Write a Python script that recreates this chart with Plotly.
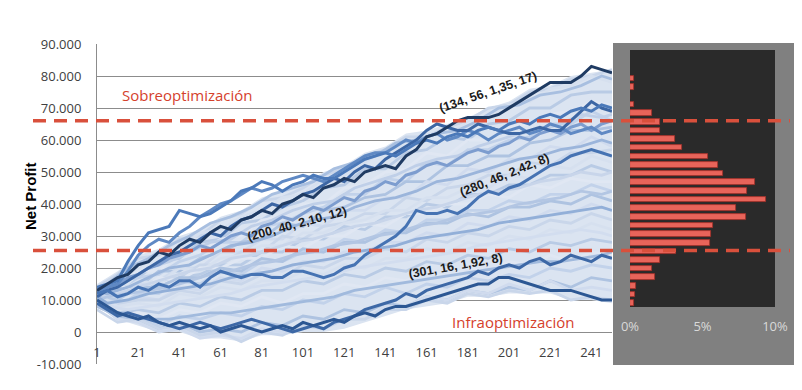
import plotly.graph_objects as go

# ---------------- data (values in thousands of Net Profit) ----------------
steps_a = [1, 11, 21, 31, 41, 51, 61, 71, 81, 91, 101, 111, 121, 131, 141, 151, 161, 171, 181, 191, 201, 211, 221, 231, 241, 251]
steps_b = [1, 6, 16, 26, 36, 46, 56, 66, 76, 86, 96, 106, 116, 126, 136, 146, 156, 166, 176, 186, 196, 206, 216, 226, 236, 246, 251]
steps_c = [1, 6, 11, 16, 21, 26, 31, 36, 41, 46, 51, 56, 61, 66, 71, 76, 81, 86, 91, 96, 101, 106, 111, 116, 121, 126,
           131, 136, 141, 146, 151, 156, 161, 166, 171, 176, 181, 186, 191, 196, 201, 206, 211, 216, 221, 226, 231, 236,
           241, 246, 251]

cloud_upper = [15, 19, 24, 26, 30, 32, 36, 38, 42, 44, 46, 50, 52, 56, 58, 62, 63, 65, 67, 70, 72, 76, 77, 80, 81, 82]
cloud_lower = [8, 4, 2, 0, 0, -2, -2, -3, -1, -1, 0, 0, 1, 3, 5, 7, 8, 9, 11, 11, 12, 12, 12, 10, 10, 9]

light_runs = [
    [14, 18, 23, 24, 29, 30, 35, 37, 41, 42, 45, 49, 51, 55, 57, 61, 61, 64, 66, 70, 71, 75, 76, 79, 80, 82],
    [13, 17, 20, 25, 26, 31, 32, 36, 38, 42, 43, 48, 49, 53, 57, 58, 62, 61, 66, 67, 71, 72, 76, 77, 80, 78],
    [12, 16, 17, 22, 23, 28, 29, 34, 35, 39, 41, 45, 46, 51, 51, 56, 57, 61, 60, 65, 66, 70, 70, 74, 75, 75],
    [11, 14, 19, 19, 25, 25, 29, 30, 35, 36, 40, 40, 45, 46, 50, 51, 56, 55, 60, 60, 64, 65, 68, 69, 72, 71],
    [13, 11, 17, 18, 22, 24, 28, 28, 33, 34, 37, 39, 43, 43, 48, 47, 53, 52, 57, 57, 60, 61, 65, 65, 69, 66],
    [10, 14, 14, 19, 19, 23, 25, 28, 29, 34, 33, 38, 39, 42, 43, 47, 47, 52, 52, 55, 55, 59, 60, 63, 63, 64],
    [12, 10, 15, 16, 20, 20, 25, 25, 29, 29, 34, 33, 38, 38, 42, 42, 47, 46, 51, 50, 54, 54, 58, 57, 61, 58],
    [9, 13, 12, 16, 17, 21, 21, 25, 25, 30, 29, 33, 34, 37, 37, 42, 41, 45, 46, 49, 49, 53, 52, 56, 56, 57],
    [14, 12, 16, 15, 20, 19, 23, 24, 27, 27, 31, 31, 34, 35, 38, 38, 42, 42, 45, 45, 49, 48, 52, 51, 55, 53],
    [11, 10, 14, 14, 17, 18, 21, 21, 25, 25, 29, 29, 33, 32, 36, 36, 40, 39, 43, 43, 46, 46, 49, 49, 52, 50],
    [12, 15, 12, 17, 16, 20, 20, 23, 23, 27, 26, 30, 30, 34, 33, 37, 37, 40, 40, 43, 42, 46, 45, 48, 47, 47],
    [10, 8, 12, 12, 16, 15, 19, 18, 22, 22, 25, 25, 29, 28, 32, 31, 35, 35, 38, 38, 41, 40, 43, 43, 46, 44],
    [13, 11, 14, 14, 17, 17, 20, 19, 23, 22, 26, 25, 28, 28, 31, 31, 34, 34, 37, 36, 39, 39, 41, 40, 43, 41],
    [9, 8, 11, 10, 14, 13, 17, 16, 20, 19, 22, 22, 25, 25, 28, 28, 31, 30, 34, 33, 36, 35, 38, 37, 40, 38],
    [11, 9, 10, 10, 13, 12, 16, 15, 18, 17, 21, 20, 23, 23, 26, 25, 29, 28, 31, 30, 33, 32, 35, 34, 37, 35],
    [12, 8, 9, 8, 12, 11, 14, 13, 16, 16, 19, 18, 21, 20, 23, 23, 26, 25, 28, 27, 30, 29, 32, 31, 34, 32],
    [10, 6, 7, 6, 9, 8, 11, 10, 13, 13, 16, 15, 18, 17, 20, 19, 22, 21, 24, 23, 26, 25, 28, 27, 29, 28],
    [8, 5, 6, 4, 7, 6, 9, 8, 11, 9, 12, 12, 15, 14, 17, 16, 19, 17, 20, 19, 22, 21, 24, 22, 25, 24],
    [9, 4, 5, 2, 5, 4, 6, 5, 8, 7, 10, 9, 12, 11, 14, 12, 15, 14, 17, 16, 18, 17, 20, 19, 21, 20],
    [8, 5, 4, 1, 3, 0, 1, 0, 3, 2, 5, 4, 7, 6, 9, 8, 11, 10, 13, 12, 14, 13, 16, 14, 17, 16],
    [10, 4, 3, 0, 1, -2, -1, -2, 1, 0, 2, 1, 4, 4, 8, 8, 11, 10, 13, 12, 15, 13, 16, 13, 14, 13],
    [7, 3, 4, 1, 2, -1, 0, -3, 0, -1, 2, 1, 4, 4, 7, 7, 10, 9, 12, 11, 13, 12, 13, 10, 11, 10],
]

mid_runs = [
    [13, 15, 20, 23, 27, 30, 34, 36, 39, 43, 45, 47, 51, 53, 55, 59, 60, 62, 63, 66, 70, 71, 74, 75, 77, 80, 79],
    [12, 13, 16, 20, 22, 25, 28, 29, 33, 35, 38, 40, 41, 45, 47, 49, 52, 54, 55, 58, 60, 62, 63, 65, 68, 67, 68],
    [11, 12, 14, 17, 20, 21, 24, 27, 28, 30, 33, 35, 36, 39, 41, 42, 44, 47, 48, 50, 52, 54, 55, 57, 58, 60, 59],
    [12, 11, 13, 15, 17, 19, 20, 23, 24, 26, 28, 29, 31, 33, 34, 36, 38, 39, 41, 43, 44, 45, 47, 48, 50, 49, 50],
    [10, 11, 12, 13, 14, 16, 18, 19, 21, 22, 24, 25, 27, 28, 30, 31, 33, 34, 36, 37, 38, 40, 41, 42, 44, 43, 44],
    [11, 9, 10, 12, 13, 14, 15, 17, 18, 19, 21, 22, 23, 25, 26, 27, 29, 30, 31, 32, 34, 35, 36, 37, 38, 39, 38],
    [9, 8, 7, 8, 9, 10, 11, 12, 14, 15, 16, 17, 18, 20, 21, 22, 23, 24, 25, 27, 28, 29, 30, 31, 32, 31, 30],
    [10, 7, 5, 4, 4, 5, 6, 6, 7, 8, 9, 10, 11, 13, 14, 15, 16, 17, 18, 19, 20, 21, 22, 22, 23, 24, 25],
]

run_medium_upper = [12, 14, 15, 17, 18, 20, 21, 23, 24, 25, 27, 26, 28, 30, 31, 30, 33, 34, 36, 35, 37, 39, 38, 40, 42, 41,
                    44, 45, 47, 46, 49, 50, 52, 53, 52, 54, 56, 57, 56, 58, 59, 61, 60, 62, 63, 62, 64, 65, 63, 65, 66]
run_dark_upper = [11, 13, 14, 16, 18, 20, 22, 24, 25, 27, 29, 31, 30, 33, 35, 36, 38, 40, 39, 41, 43, 44, 46, 48, 47, 50,
                  52, 51, 54, 56, 58, 60, 63, 65, 64, 63, 63, 65, 64, 63, 62, 62, 63, 64, 63, 63, 66, 69, 72, 70, 69]
run_200_40 = [14, 15, 16, 22, 27, 31, 32, 33, 38, 37, 36, 37, 39, 41, 44, 45, 47, 46, 44, 46, 47, 49, 48, 48, 50, 52,
              54, 55, 56, 55, 57, 59, 60, 59, 61, 62, 61, 63, 64, 63, 65, 66, 65, 67, 68, 67, 69, 70, 69, 71, 70]
run_parallel = [13, 14, 15, 19, 24, 27, 29, 28, 31, 33, 36, 38, 40, 41, 43, 45, 44, 45, 47, 48, 49, 48, 47, 49, 51, 53,
                55, 56, 56, 58, 60, 59, 61, 62, 60, 61, 63, 62, 60, 62, 63, 64, 62, 63, 65, 64, 62, 63, 64, 62, 63]
run_280_46 = [12, 13, 11, 12, 14, 13, 15, 14, 16, 16, 14, 17, 19, 18, 17, 18, 18, 17, 17, 19, 19, 18, 17, 18, 20, 21,
              24, 26, 28, 30, 33, 38, 37, 37, 38, 37, 39, 42, 44, 43, 45, 46, 48, 50, 52, 53, 55, 56, 57, 56, 55]
run_low_b = [9, 7, 5, 6, 5, 4, 3, 2, 1, 2, 3, 2, 1, 2, 3, 4, 3, 2, 1, 0, 1, 2, 1, 3, 4, 5,
             7, 8, 9, 10, 12, 11, 13, 14, 15, 16, 17, 19, 18, 20, 21, 20, 22, 23, 21, 22, 24, 23, 22, 24, 23]
run_301_16 = [10, 8, 6, 5, 4, 5, 3, 2, 3, 2, 1, 2, 0, 1, 2, 1, 0, 1, 2, 1, 3, 2, 3, 4, 3, 5,
              6, 5, 7, 8, 8, 9, 10, 11, 12, 13, 14, 15, 15, 17, 17, 16, 15, 14, 13, 13, 13, 12, 11, 10, 10]
run_134_56 = [13, 15, 17, 18, 21, 22, 25, 24, 27, 29, 28, 31, 33, 32, 35, 36, 38, 37, 40, 41, 43, 42, 45, 46, 48, 47,
              50, 51, 52, 51, 55, 57, 61, 62, 64, 66, 67, 67, 67, 68, 70, 72, 74, 76, 78, 78, 78, 80, 83, 82, 81]

hist_bins = [9.0, 11.7, 14.4, 17.1, 19.8, 22.5, 25.2, 27.9, 30.6, 33.3, 36.0, 38.7, 41.4, 44.1, 46.8, 49.5, 52.2,
             54.9, 57.6, 60.3, 63.0, 65.7, 68.4, 71.1, 73.8, 76.5, 79.2]
hist_pct = [0.3, 0.35, 0.4, 1.75, 1.55, 2.1, 3.15, 5.5, 5.6, 5.7, 8.0, 7.3, 9.4, 8.1, 8.6, 6.4, 6.1, 5.4, 3.6, 3.1,
            2.06, 2.1, 1.55, 0.25, 0, 0.25, 0.25]

y_ticks = [-10000, 0, 10000, 20000, 30000, 40000, 50000, 60000, 70000, 80000, 90000]
y_labels = ["-10.000", "0", "10.000", "20.000", "30.000", "40.000", "50.000", "60.000", "70.000", "80.000", "90.000"]
x_ticks = [1, 21, 41, 61, 81, 101, 121, 141, 161, 181, 201, 221, 241]
pct_ticks = [0, 5, 10]
pct_labels = ["0%", "5%", "10%"]
upper_level = 66000
lower_level = 25500

K = 1000


def k(vals):
    return [v * K for v in vals]


fig = go.Figure()

# light cloud band
fig.add_trace(go.Scatter(x=steps_a + steps_a[::-1], y=k(cloud_upper) + k(cloud_lower)[::-1],
                         fill="toself", fillcolor="#dbe4f1", line=dict(width=0), mode="lines",
                         hoverinfo="skip", showlegend=False))

light_cols = ["#c9d6ea", "#d6e0ef", "#b9cbe5", "#e0e7f3", "#c2d2ea", "#aec3e1", "#d0dbee"]
for i, run in enumerate(light_runs):
    fig.add_trace(go.Scatter(x=steps_a, y=k(run), mode="lines",
                             line=dict(color=light_cols[i % len(light_cols)], width=2.8),
                             showlegend=False, hoverinfo="skip"))

mid_cols = ["#a8bfe0", "#bfcfe8", "#9bb5db", "#c8d5ea", "#b3c6e3", "#92afd8", "#d2ddef", "#a1badd"]
for i, run in enumerate(mid_runs):
    fig.add_trace(go.Scatter(x=steps_b, y=k(run), mode="lines",
                             line=dict(color=mid_cols[i % len(mid_cols)], width=2.8),
                             showlegend=False, hoverinfo="skip"))

for run, col in [(run_medium_upper, "#7d9dcf"), (run_parallel, "#5f89c4"), (run_low_b, "#3d68a6"),
                 (run_dark_upper, "#3c66a4"), (run_200_40, "#4b79b9"), (run_280_46, "#4673b3"),
                 (run_301_16, "#2c5793"), (run_134_56, "#1f3b63")]:
    fig.add_trace(go.Scatter(x=steps_c, y=k(run), mode="lines", line=dict(color=col, width=3),
                             showlegend=False, hoverinfo="skip"))

# histogram panel
fig.add_trace(go.Bar(x=hist_pct, y=k(hist_bins), orientation="h", width=1750,
                     marker=dict(color="#e8645a", line=dict(color="#a4302a", width=0.8)),
                     xaxis="x2", yaxis="y2", showlegend=False, hoverinfo="skip"))

# page body adds an 8px margin: work in screen pixels and subtract it
OFF = 8
W, H = 802 - OFF, 390 - OFF
L, R, T, B = 97 - OFF, 802 - 775, 44 - OFF, 390 - 364
pw = W - L - R
ph = H - T - B


def px(xp):
    return (xp - OFF - L) / pw


def py(yp):
    return (H - B - (yp - OFF)) / ph


tick_font = dict(family="Open Sans, Noto Sans, sans-serif", size=13, color="#404040")

fig.update_layout(
    width=W, height=H, margin=dict(l=L, r=R, t=T, b=B, pad=0),
    paper_bgcolor="white", plot_bgcolor="white", showlegend=False, bargap=0,
    xaxis=dict(domain=[0, px(612)], range=[1, 251], anchor="free", position=py(332),
               showgrid=False, zeroline=False, showline=False, ticks="",
               tickvals=x_ticks, ticktext=[str(v) for v in x_ticks], tickfont=tick_font,
               ticklabelstandoff=11),
    yaxis=dict(domain=[0, 1], range=[-10000, 90000], showgrid=True, gridcolor="#8c8c8c", gridwidth=1,
               zeroline=False, showline=True, linecolor="#8c8c8c", linewidth=1, ticks="",
               tickvals=y_ticks, ticktext=y_labels, tickfont=tick_font, ticklabelstandoff=12),
    xaxis2=dict(domain=[px(630), 1.0], range=[0, 10], anchor="free", position=py(307),
                showgrid=False, zeroline=False, showline=False, ticks="",
                tickvals=pct_ticks, ticktext=pct_labels,
                tickfont=dict(family="Open Sans, Noto Sans, sans-serif", size=13, color="#d9d9d9"),
                ticklabelstandoff=10),
    yaxis2=dict(domain=[0, 1], range=[-10000, 90000], anchor="x2", visible=False, showgrid=False),
)

shapes = [
    dict(type="rect", xref="paper", yref="paper", x0=px(613), x1=px(796), y0=py(365), y1=py(43),
         fillcolor="#808080", line=dict(width=0), layer="below"),
    dict(type="rect", xref="paper", yref="paper", x0=px(630), x1=px(775), y0=py(307), y1=py(50),
         fillcolor="#2a2a2a", line=dict(width=0), layer="below"),
]
for lvl in [upper_level, lower_level]:
    shapes.append(dict(type="line", xref="paper", yref="y", x0=px(33), x1=px(790), y0=lvl, y1=lvl,
                       line=dict(color="#d9503c", width=3.5, dash="13px,8px"), layer="above"))
fig.update_layout(shapes=shapes)

lab_font = dict(family="Liberation Sans, Arial, sans-serif", size=12.5, color="#1a1a1a", weight="bold")
labels = [
    ("(134, 56, 1,35, 17)", 191, 75000, -19),
    ("(280, 46, 2,42, 8)", 199, 49000, -22),
    ("(200, 40, 2,10, 12)", 98, 33750, -15),
    ("(301, 16, 1,92, 8)", 175, 20600, -10),
]
ann = []
for txt, xv, yv, ang in labels:
    ann.append(dict(text=txt, x=xv, y=yv, xref="x", yref="y", showarrow=False, textangle=ang,
                    font=lab_font, xanchor="center", yanchor="middle"))
red_font = dict(family="Open Sans, Noto Sans, sans-serif", size=15, color="#d5412c")
ann.append(dict(text="Sobreoptimización", x=px(187), y=py(95), xref="paper", yref="paper", showarrow=False,
                font=red_font, xanchor="center", yanchor="middle"))
ann.append(dict(text="Infraoptimización", x=px(513), y=py(322), xref="paper", yref="paper", showarrow=False,
                font=red_font, xanchor="center", yanchor="middle"))
ann.append(dict(text="Net Profit", x=px(30), y=py(196), xref="paper", yref="paper", showarrow=False,
                textangle=-90, font=dict(family="Liberation Sans, Arial, sans-serif", size=15, color="#000000",
                                          weight="bold"),
                xanchor="center", yanchor="middle"))
fig.update_layout(annotations=ann)

fig.write_html("out.html")
